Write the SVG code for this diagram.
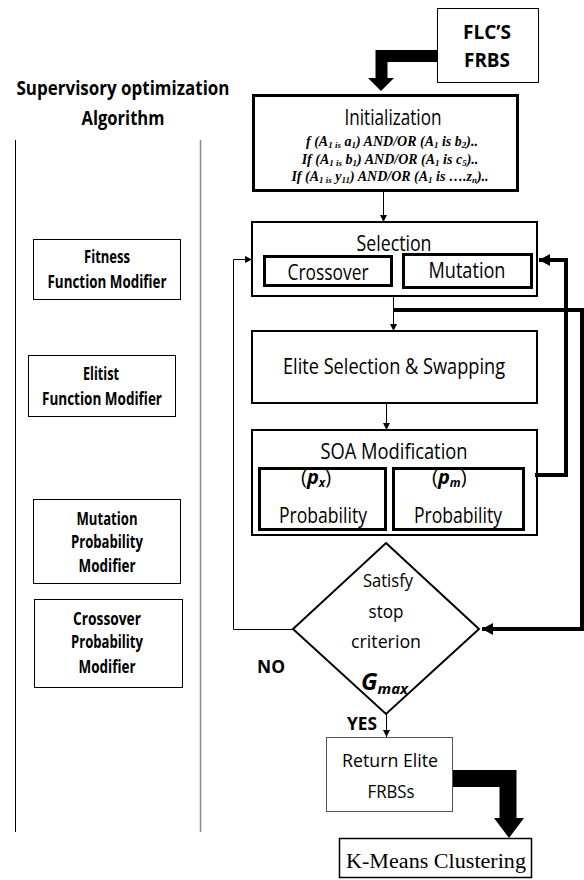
<svg xmlns="http://www.w3.org/2000/svg" width="584" height="880" viewBox="0 0 584 880">
<defs>
<style>
.c{font-family:"Open Sans","Liberation Sans",sans-serif;fill:#000;text-anchor:middle}
.b{font-weight:bold}
.f{font-family:"Liberation Serif","DejaVu Serif",serif;font-weight:bold;font-style:italic;font-size:14px;text-anchor:middle}
.s{font-size:9px}
.tm{font-family:"Liberation Serif","Times New Roman",serif;font-size:20px;text-anchor:middle}
.thin{fill:#fff;stroke:#000;stroke-width:1}
.med{fill:#fff;stroke:#000;stroke-width:2}
.thk{fill:#fff;stroke:#000;stroke-width:3}
.ln{fill:none;stroke:#000;stroke-width:1}
.tl{fill:none;stroke:#000;stroke-width:4}
</style>
<marker id="a" markerUnits="userSpaceOnUse" markerWidth="8" markerHeight="8" refX="7" refY="4" orient="auto">
<path d="M0,0.5 L7,4 L0,7.5 Z" fill="#000"/>
</marker>
<marker id="A" markerUnits="userSpaceOnUse" markerWidth="12" markerHeight="14" refX="11" refY="7" orient="auto">
<path d="M0,1 L11,7 L0,13 Z" fill="#000"/>
</marker>
</defs>
<rect width="584" height="880" fill="#fff"/>

<g id="sidebar">
<text class="c b" x="123" y="95" font-size="19" textLength="213" lengthAdjust="spacingAndGlyphs">Supervisory optimization</text>
<text class="c b" x="123" y="125" font-size="19" textLength="83" lengthAdjust="spacingAndGlyphs">Algorithm</text>
<line x1="15.5" y1="140" x2="15.5" y2="832" stroke="#000" stroke-width="1"/>
<line x1="200.5" y1="140" x2="200.5" y2="832" stroke="#888" stroke-width="1.5"/>
</g>

<g id="fitness">
<rect class="thin" x="33.5" y="239.5" width="147" height="60"/>
<text class="c b" x="107" y="263" font-size="17" textLength="46" lengthAdjust="spacingAndGlyphs">Fitness</text>
<text class="c b" x="107" y="288" font-size="17" textLength="119" lengthAdjust="spacingAndGlyphs">Function Modifier</text>
</g>
<g id="elitist">
<rect class="thin" x="28.5" y="355.5" width="147" height="61"/>
<text class="c b" x="101" y="380" font-size="17" textLength="36" lengthAdjust="spacingAndGlyphs">Elitist</text>
<text class="c b" x="102" y="405" font-size="17" textLength="120" lengthAdjust="spacingAndGlyphs">Function Modifier</text>
</g>
<g id="mutmod">
<rect class="thin" x="33.5" y="499.5" width="147" height="84"/>
<text class="c b" x="107" y="525" font-size="17" textLength="61" lengthAdjust="spacingAndGlyphs">Mutation</text>
<text class="c b" x="107" y="548" font-size="17" textLength="72" lengthAdjust="spacingAndGlyphs">Probability</text>
<text class="c b" x="107" y="572" font-size="17" textLength="57" lengthAdjust="spacingAndGlyphs">Modifier</text>
</g>
<g id="crossmod">
<rect class="thin" x="34.5" y="599.5" width="148" height="88"/>
<text class="c b" x="107" y="625" font-size="17" textLength="68" lengthAdjust="spacingAndGlyphs">Crossover</text>
<text class="c b" x="107" y="648" font-size="17" textLength="72" lengthAdjust="spacingAndGlyphs">Probability</text>
<text class="c b" x="107" y="673" font-size="17" textLength="57" lengthAdjust="spacingAndGlyphs">Modifier</text>
</g>

<g id="flc">
<rect class="thin" x="437.5" y="8.5" width="101" height="74"/>
<text class="c b" x="487" y="39" font-size="20" textLength="48" lengthAdjust="spacingAndGlyphs">FLC’S</text>
<text class="c b" x="487" y="67" font-size="20" textLength="46" lengthAdjust="spacingAndGlyphs">FRBS</text>
</g>

<g id="init">
<rect class="thk" x="253.5" y="95.5" width="264" height="95"/>
<text class="c" x="393" y="125" font-size="21" textLength="97" lengthAdjust="spacingAndGlyphs">Initialization</text>
<text class="f" x="392" y="146">f (A<tspan class="s" dy="2">1 is</tspan><tspan dy="-2"> a</tspan><tspan class="s" dy="2">1</tspan><tspan dy="-2">) AND/OR (A</tspan><tspan class="s" dy="2">1</tspan><tspan dy="-2"> is b</tspan><tspan class="s" dy="2">2</tspan><tspan dy="-2">)..</tspan></text>
<text class="f" x="390" y="164">If (A<tspan class="s" dy="2">1 is</tspan><tspan dy="-2"> b</tspan><tspan class="s" dy="2">1</tspan><tspan dy="-2">) AND/OR (A</tspan><tspan class="s" dy="2">1</tspan><tspan dy="-2"> is c</tspan><tspan class="s" dy="2">5</tspan><tspan dy="-2">)..</tspan></text>
<text class="f" x="390" y="181">If (A<tspan class="s" dy="2">1 is</tspan><tspan dy="-2"> y</tspan><tspan class="s" dy="2">11</tspan><tspan dy="-2">) AND/OR (A</tspan><tspan class="s" dy="2">1</tspan><tspan dy="-2"> is ….z</tspan><tspan class="s" dy="2">n</tspan><tspan dy="-2">)..</tspan></text>
</g>

<g id="selection">
<rect class="med" x="252" y="222" width="285" height="74"/>
<text class="c" x="394" y="251" font-size="21" textLength="75" lengthAdjust="spacingAndGlyphs">Selection</text>
<rect class="thk" x="264.5" y="256.5" width="127" height="29"/>
<text class="c" x="328" y="280" font-size="21" textLength="81" lengthAdjust="spacingAndGlyphs">Crossover</text>
<rect class="thk" x="403.5" y="254.5" width="128" height="33"/>
<text class="c" x="467" y="278" font-size="21" textLength="77" lengthAdjust="spacingAndGlyphs">Mutation</text>
</g>

<g id="elite">
<rect class="med" x="252" y="331" width="285" height="72"/>
<text class="c" x="394" y="374" font-size="21" textLength="222" lengthAdjust="spacingAndGlyphs">Elite Selection &amp; Swapping</text>
</g>

<g id="soa">
<rect class="med" x="252" y="430" width="285" height="105"/>
<text class="c" x="394" y="459" font-size="21" textLength="147" lengthAdjust="spacingAndGlyphs">SOA Modification</text>
<text class="c" x="323" y="523" font-size="21" textLength="88" lengthAdjust="spacingAndGlyphs">Probability</text>
<rect x="259.5" y="468.5" width="126" height="61" fill="none" stroke="#000" stroke-width="3"/>
<text x="301" y="484" font-family="'Open Sans',sans-serif" font-size="20">(<tspan font-weight="bold" font-style="italic">p</tspan><tspan font-weight="bold" font-style="italic" font-size="12" dy="3">x</tspan><tspan dy="-3">)</tspan></text>
<text class="c" x="458" y="523" font-size="21" textLength="88" lengthAdjust="spacingAndGlyphs">Probability</text>
<rect x="393.5" y="468.5" width="130" height="61" fill="none" stroke="#000" stroke-width="3"/>
<text x="432" y="484" font-family="'Open Sans',sans-serif" font-size="20">(<tspan font-weight="bold" font-style="italic">p</tspan><tspan font-weight="bold" font-style="italic" font-size="12" dy="3">m</tspan><tspan dy="-3">)</tspan></text>
</g>

<g id="decision">
<polygon points="386,543 479,629 386,714 293,629" fill="#fff" stroke="#000" stroke-width="2"/>
<text class="c" x="388" y="587" font-size="19" textLength="50" lengthAdjust="spacingAndGlyphs">Satisfy</text>
<text class="c" x="386" y="618" font-size="19" textLength="35" lengthAdjust="spacingAndGlyphs">stop</text>
<text class="c" x="386" y="648" font-size="19" textLength="70" lengthAdjust="spacingAndGlyphs">criterion</text>
<text x="361" y="690" font-family="'Open Sans',sans-serif" font-weight="bold" font-style="italic" font-size="24">G<tspan font-size="15" dy="4">max</tspan></text>
</g>

<g id="labels">
<text class="c b" x="271" y="673" font-size="18" textLength="28" lengthAdjust="spacingAndGlyphs">NO</text>
<text class="c b" x="362" y="730" font-size="18" textLength="30" lengthAdjust="spacingAndGlyphs">YES</text>
</g>

<g id="return">
<rect x="326.5" y="737.5" width="126" height="74" fill="#fff" stroke="#555" stroke-width="1"/>
<text class="c" x="390" y="767" font-size="19" textLength="96" lengthAdjust="spacingAndGlyphs">Return Elite</text>
<text class="c" x="391" y="798" font-size="19" textLength="47" lengthAdjust="spacingAndGlyphs">FRBSs</text>
</g>

<g id="kmeans">
<rect x="339.5" y="838.5" width="192" height="39" fill="#fff" stroke="#000" stroke-width="1.5"/>
<text class="tm" x="436" y="868" textLength="180" lengthAdjust="spacingAndGlyphs">K-Means Clustering</text>
</g>

<g id="connectors">
<path d="M437,56 H381.5 V79" fill="none" stroke="#000" stroke-width="12"/>
<polygon points="368,78 394,78 381,91" fill="#000"/>
<line class="ln" x1="383.5" y1="191" x2="383.5" y2="222" marker-end="url(#a)"/>
<line class="ln" x1="393.5" y1="296" x2="393.5" y2="331" marker-end="url(#a)"/>
<line class="ln" x1="386.5" y1="403" x2="386.5" y2="430" marker-end="url(#a)"/>
<line class="ln" x1="386.5" y1="714" x2="386.5" y2="737" marker-end="url(#a)"/>
<path class="ln" d="M293,629.5 H233.5 V259.5 H252" marker-end="url(#a)"/>
<path class="tl" d="M393,310 H582 V629 H482" marker-end="url(#A)"/>
<path class="tl" d="M535,475 H566 V260 H539" marker-end="url(#A)"/>
<path d="M453,778.5 H508 V819" fill="none" stroke="#000" stroke-width="17"/>
<polygon points="494,818 524,818 509,838" fill="#000"/>
</g>
</svg>
